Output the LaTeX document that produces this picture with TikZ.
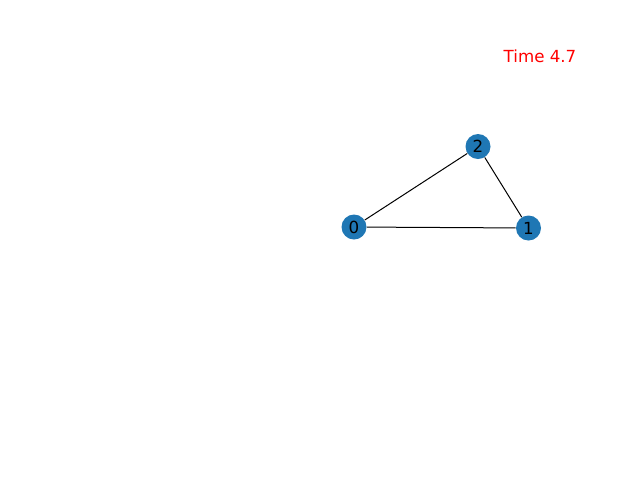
\documentclass[tikz,border=0pt]{standalone}
\usepackage{fontspec}
\setmainfont{DejaVu Sans}
\definecolor{tabblue}{HTML}{1F77B4}
\begin{document}
\begin{tikzpicture}[x=0.75pt,y=-0.75pt,
  vert/.style={circle,fill=tabblue,minimum size=18.75pt,inner sep=0pt,font=\fontsize{12.5pt}{14pt}\selectfont},
  edge/.style={draw=black,line width=0.75pt}]
\useasboundingbox (0,0) rectangle (640,480);
\node[vert] (n0) at (354,227) {0};
\node[vert] (n1) at (528.5,228) {1};
\node[vert] (n2) at (478,146.5) {2};
\draw[edge] (n0) -- (n1);
\draw[edge] (n0) -- (n2);
\draw[edge] (n1) -- (n2);
\node[text=red,font=\fontsize{12.5pt}{14pt}\selectfont,anchor=base] (t) at (540,62) {Time 4.7};
\end{tikzpicture}
\end{document}
